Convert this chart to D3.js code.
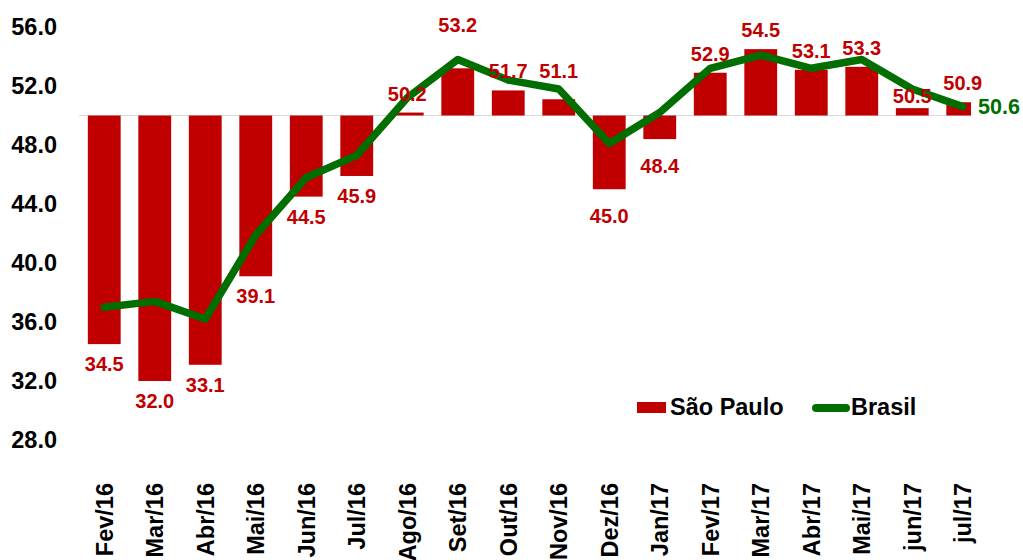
<!DOCTYPE html>
<html><head><meta charset="utf-8">
<script src="https://cdn.jsdelivr.net/npm/d3@7"></script>
<style>
html,body{margin:0;padding:0;background:#fff;}
svg{display:block;font-family:"Liberation Sans",Arial,sans-serif;font-weight:bold;}
</style></head>
<body>
<svg id="chart" width="1023" height="560"></svg>
<script>
const categories = ["Fev/16","Mar/16","Abr/16","Mai/16","Jun/16","Jul/16","Ago/16","Set/16","Out/16","Nov/16","Dez/16","Jan/17","Fev/17","Mar/17","Abr/17","Mai/17","jun/17","jul/17"];
const saoPaulo = [34.5,32.0,33.1,39.1,44.5,45.9,50.2,53.2,51.7,51.1,45.0,48.4,52.9,54.5,53.1,53.3,50.5,50.9];
const brasil = [37.0,37.4,36.2,41.9,45.8,47.3,51.2,53.8,52.4,51.8,48.1,50.2,53.2,54.1,53.2,53.8,51.8,50.6];
const yTicks = [28,32,36,40,44,48,52,56];
const baseValue = 50;
const seriesNames = ["São Paulo","Brasil"];

const RED = "#c00000", GREEN = "#006e00";
const svg = d3.select("#chart");
const x = d3.scaleBand().domain(categories).range([79, 988]).paddingInner(0.35).paddingOuter(0.175);
const y = d3.scaleLinear().domain([28, 56]).range([440, 27]);

// baseline
svg.append("line").attr("x1", 79).attr("x2", 988)
  .attr("y1", y(baseValue)).attr("y2", y(baseValue))
  .attr("stroke", "#d9d9d9").attr("stroke-width", 1);

// y axis
const yAxis = d3.axisLeft(y).tickValues(yTicks).tickFormat(d3.format(".1f")).tickSize(0).tickPadding(0);
const gy = svg.append("g").attr("transform", "translate(57,0)").call(yAxis);
gy.select(".domain").remove();
gy.selectAll("text").attr("font-size", 23.5).attr("font-family", "Liberation Sans, Arial, sans-serif")
  .attr("font-weight", "bold").attr("fill", "#000").attr("dy", "0.3em");

// x axis labels
const xAxis = d3.axisBottom(x).tickSize(0).tickPadding(0);
const gx = svg.append("g").attr("transform", "translate(0,483)").call(xAxis);
gx.select(".domain").remove();
gx.selectAll("text").attr("font-size", 23.5).attr("font-family", "Liberation Sans, Arial, sans-serif")
  .attr("font-weight", "bold").attr("fill", "#000")
  .attr("text-anchor", "end").attr("transform", "rotate(-90)")
  .attr("x", 0).attr("y", 0).attr("dy", "0.36em");

// bars
const data = categories.map((c, i) => ({c, sp: saoPaulo[i], br: brasil[i]}));
svg.append("g").selectAll("rect").data(data).join("rect")
  .attr("x", d => x(d.c)).attr("width", x.bandwidth())
  .attr("y", d => y(Math.max(d.sp, baseValue)))
  .attr("height", d => Math.abs(y(d.sp) - y(baseValue)))
  .attr("fill", RED);

// line
const line = d3.line().x(d => x(d.c) + x.bandwidth() / 2).y(d => y(d.br));
svg.append("path").datum(data).attr("d", line)
  .attr("fill", "none").attr("stroke", GREEN).attr("stroke-width", 7.5)
  .attr("stroke-linejoin", "round").attr("stroke-linecap", "round");

// bar labels (nudges keep a few labels clear of the line)
const nudge = {"Set/16": -24, "Nov/16": -9, "jun/17": 7, "Dez/16": 7, "Jan/17": 7};
svg.append("g").selectAll("text").data(data).join("text")
  .attr("x", d => x(d.c) + x.bandwidth() / 2)
  .attr("y", d => (d.sp >= baseValue ? y(d.sp) - 12 : y(d.sp) + 27) + (nudge[d.c] || 0))
  .attr("text-anchor", "middle").attr("font-size", 20).attr("fill", RED)
  .text(d => d3.format(".1f")(d.sp));

// last Brasil label with white box
const last = data[data.length - 1];
svg.append("rect").attr("x", 971).attr("y", y(last.br) - 16).attr("width", 60).attr("height", 30).attr("fill", "#fff");
svg.append("text").attr("x", 978).attr("y", y(last.br) + 7.5)
  .attr("font-size", 21.5).attr("fill", GREEN).text(d3.format(".1f")(last.br));

// legend
const lg = svg.append("g");
lg.append("rect").attr("x", 637).attr("y", 402).attr("width", 29).attr("height", 11).attr("fill", RED);
lg.append("text").attr("x", 670).attr("y", 415).attr("font-size", 23.5).attr("fill", "#000").text(seriesNames[0]);
lg.append("line").attr("x1", 816).attr("x2", 846).attr("y1", 408).attr("y2", 408)
  .attr("stroke", GREEN).attr("stroke-width", 8).attr("stroke-linecap", "round");
lg.append("text").attr("x", 851).attr("y", 415).attr("font-size", 23.5).attr("fill", "#000").text(seriesNames[1]);
</script>
</body></html>
